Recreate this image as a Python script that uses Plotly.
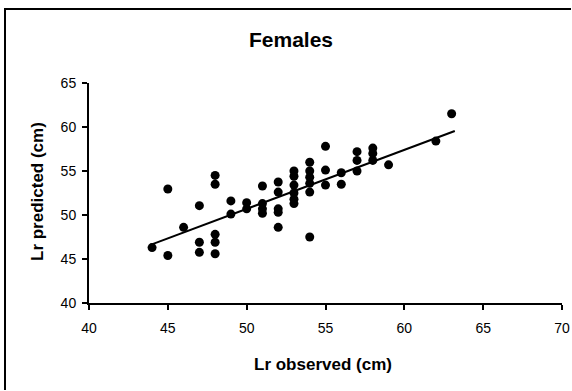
import plotly.graph_objects as go

# Observed (x) and predicted (y) values
obs = [44,
       45, 45,
       46,
       47, 47, 47,
       48, 48, 48, 48, 48,
       49, 49,
       50, 50,
       51, 51, 51, 51,
       52, 52, 52, 52, 52,
       53, 53, 53, 53, 53, 53,
       54, 54, 54, 54, 54, 54,
       55, 55, 55,
       56, 56,
       57, 57, 57,
       58, 58, 58,
       59,
       62,
       63]
pred = [46.3,
        45.4, 52.95,
        48.6,
        51.06, 46.9, 45.76,
        54.5, 53.5, 47.8, 46.9, 45.6,
        51.6, 50.1,
        51.4, 50.7,
        53.3, 51.3, 50.7, 50.2,
        53.75, 52.6, 50.7, 50.3, 48.6,
        55.0, 54.4, 53.4, 52.5, 51.8, 51.3,
        56.0, 55.0, 54.3, 53.6, 52.6, 47.5,
        57.8, 55.1, 53.4,
        54.8, 53.5,
        57.2, 56.2, 55.0,
        57.6, 57.0, 56.2,
        55.7,
        58.4,
        61.5]

# Trend line end points
trend_x = [43.9, 63.2]
trend_y = [46.6, 59.55]

x_ticks = [40, 45, 50, 55, 60, 65, 70]
y_ticks = [40, 45, 50, 55, 60, 65]

title_text = "Females"
x_title = "Lr observed (cm)"
y_title = "Lr predicted (cm)"

W, H = 572, 391
L, R, T, B = 89, 10, 83, 88
pw, ph = W - L - R, H - T - B

def px2paper_x(px):
    return (px - L) / pw

def px2paper_y(py):
    return (H - B - py) / ph

FONT = "Liberation Sans, Arial, sans-serif"

fig = go.Figure()
fig.add_trace(go.Scatter(x=obs, y=pred, mode="markers",
                         marker=dict(color="black", size=9, line=dict(width=0)),
                         showlegend=False, cliponaxis=False))
fig.add_trace(go.Scatter(x=trend_x, y=trend_y, mode="lines",
                         line=dict(color="black", width=2),
                         showlegend=False))

axis_common = dict(showgrid=False, zeroline=False, showline=True, linecolor="black",
                   linewidth=2, ticks="outside", ticklen=5, tickwidth=1.5,
                   tickcolor="black", automargin=False,
                   tickfont=dict(size=14, family=FONT, color="black"))

# frame: only its left and top edges fall inside the picture
frame_path = "M {x0},{yb} L {x0},{yt} L {xr},{yt}".format(
    x0=px2paper_x(5), yb=px2paper_y(390), yt=px2paper_y(9), xr=px2paper_x(571))

fig.update_layout(
    width=W, height=H,
    margin=dict(l=L, r=R, t=T, b=B, autoexpand=False),
    paper_bgcolor="white", plot_bgcolor="white",
    font=dict(family=FONT, color="black", size=14),
    xaxis=dict(range=[40, 70], tickvals=x_ticks, ticktext=[str(v) for v in x_ticks],
               ticklabelstandoff=6, **axis_common),
    yaxis=dict(range=[40, 65], tickvals=y_ticks, ticktext=[str(v) for v in y_ticks],
               ticklabelstandoff=3, **axis_common),
    annotations=[
        dict(text="<b>%s</b>" % title_text, xref="paper", yref="paper",
             x=px2paper_x(291), y=px2paper_y(40), showarrow=False,
             xanchor="center", yanchor="middle",
             font=dict(size=21, family=FONT, color="black")),
        dict(text="<b>%s</b>" % x_title, xref="paper", yref="paper",
             x=px2paper_x(323), y=px2paper_y(364), showarrow=False,
             xanchor="center", yanchor="middle",
             font=dict(size=17, family=FONT, color="black")),
        dict(text="<b>%s</b>" % y_title, xref="paper", yref="paper",
             x=px2paper_x(37), y=px2paper_y(192), showarrow=False,
             xanchor="center", yanchor="middle", textangle=-90,
             font=dict(size=17, family=FONT, color="black")),
    ],
    shapes=[
        dict(type="path", xref="paper", yref="paper", path=frame_path,
             line=dict(color="black", width=2), layer="above"),
    ],
)

fig.write_html("out.html")
